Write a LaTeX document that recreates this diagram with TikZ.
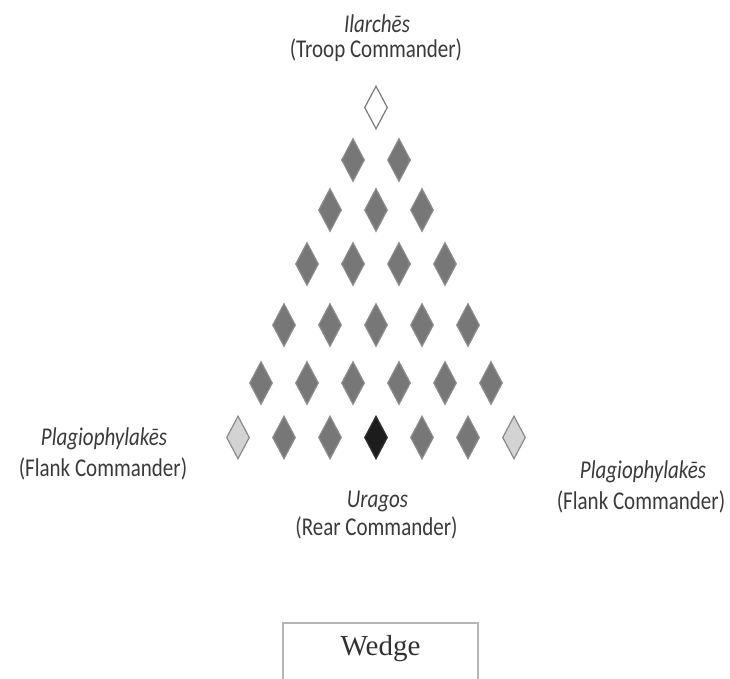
\documentclass[tikz,border=0pt]{standalone}
\usepackage{graphicx}
\usepackage{fontspec}
\setmainfont{Carlito}
\newfontfamily\wedgefont{Liberation Serif}
\usetikzlibrary{shapes.geometric}
\definecolor{txt}{HTML}{3A3A3A}
\definecolor{gemfill}{HTML}{777777}
\definecolor{gemedge}{HTML}{8C8C8C}
\definecolor{flankfill}{HTML}{D3D3D3}
\definecolor{flankedge}{HTML}{8A8A8A}
\definecolor{rearfill}{HTML}{1C1C1C}
\definecolor{leadedge}{HTML}{7A7A7A}
\definecolor{boxedge}{HTML}{B5B5B5}
\newcommand\vstretch[1]{\scalebox{1}[1.22]{#1}}
\tikzset{
  gem/.style={shape=diamond, inner sep=0pt, minimum width=23pt, minimum height=43pt, line width=1.2pt},
  gemgray/.style={gem, fill=gemfill, draw=gemedge},
  gemflank/.style={gem, fill=flankfill, draw=flankedge},
  gemrear/.style={gem, fill=rearfill, draw=rearfill!80!gray},
  gemlead/.style={gem, fill=white, draw=leadedge},
  lbl/.style={text=txt, font=\fontsize{21}{21}\selectfont, inner sep=0pt, anchor=base},
  boxline/.style={draw=boxedge, line width=1.6pt},
}
\begin{document}
\begin{tikzpicture}[x=1pt,y=-1pt]
\useasboundingbox (0,0) rectangle (730,679);
% leader
\node[gemlead] (d-0-0) at (376,107.5) {};
% rows 1..5
\foreach \r/\y in {1/160,2/210,3/264,4/325,5/383}{
  \foreach \k in {0,...,\r}{
    \node[gemgray] (d-\r-\k) at ({376+23*(2*\k-\r)},\y) {};
  }
}
% rear row
\node[gemflank] (d-6-0) at (238,437.5) {};
\node[gemgray]  (d-6-1) at (284,437.5) {};
\node[gemgray]  (d-6-2) at (330,437.5) {};
\node[gemrear]  (d-6-3) at (376,437.5) {};
\node[gemgray]  (d-6-4) at (422,437.5) {};
\node[gemgray]  (d-6-5) at (468,437.5) {};
\node[gemflank] (d-6-6) at (514,437.5) {};
% labels
\node[lbl] (ilarch) at (377,33) {\vstretch{\itshape Ilarchēs}};
\node[lbl] (troop) at (376,58) {\vstretch{(Troop Commander)}};
\node[lbl] (plagl) at (104,445) {\vstretch{\itshape Plagiophylakēs}};
\node[lbl] (flankl) at (103,476) {\vstretch{(Flank Commander)}};
\node[lbl] (plagr) at (643,478) {\vstretch{\itshape Plagiophylakēs}};
\node[lbl] (flankr) at (641,509) {\vstretch{(Flank Commander)}};
\node[lbl] (uragos) at (377.5,507) {\vstretch{\itshape Uragos}};
\node[lbl] (rear) at (376.5,535) {\vstretch{(Rear Commander)}};
% caption box
\draw[boxline] (283,700) -- (283,623) -- (478,623) -- (478,700);
\node[text=txt!85!black, font=\wedgefont\fontsize{29}{29}\selectfont, inner sep=0pt, anchor=base] (wedge) at (380.5,655) {Wedge};
\end{tikzpicture}
\end{document}
